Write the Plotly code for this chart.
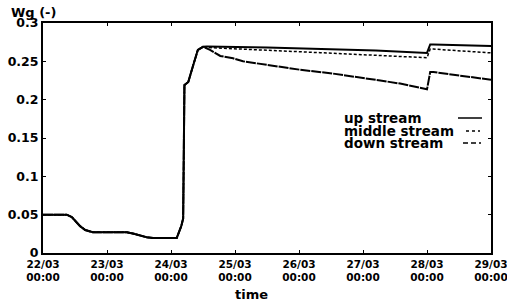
import plotly.graph_objects as go
import pandas as pd

# ---- data (days since 22/03 00:00, Wg values) ----
start_date = "2001-03-22 00:00"

early_days = [0, 0.37, 0.45, 0.52, 0.58, 0.66, 0.78, 1.0, 1.31, 1.42, 1.52, 1.62,
              1.72, 1.98, 2.09, 2.16, 2.19, 2.21, 2.27, 2.34, 2.42, 2.5]
early_wg = [0.050, 0.050, 0.047, 0.041, 0.035, 0.030, 0.027, 0.027, 0.027, 0.025,
            0.0226, 0.0205, 0.0196, 0.0196, 0.0196, 0.035, 0.045, 0.219, 0.223,
            0.243, 0.265, 0.269]

up_days = [2.56, 3.5, 4.33, 5.2, 6.0, 6.05, 6.1, 7.0]
up_wg = [0.2695, 0.268, 0.2665, 0.264, 0.261, 0.272, 0.272, 0.270]

mid_days = [2.56, 4.33, 5.2, 6.0, 6.05, 6.1, 7.0]
mid_wg = [0.268, 0.2613, 0.258, 0.2547, 0.266, 0.266, 0.261]

down_days = [2.61, 2.77, 2.97, 3.125, 3.5, 4.02, 4.53, 5.06, 5.27, 5.58, 5.9,
             6.0, 6.05, 6.1, 7.0]
down_wg = [0.265, 0.257, 0.254, 0.250, 0.245, 0.239, 0.234, 0.228, 0.225, 0.221,
           0.216, 0.2135, 0.236, 0.236, 0.226]

series_names = ["up stream", "middle stream", "down stream"]
y_tick_vals = [0, 0.05, 0.1, 0.15, 0.2, 0.25, 0.3]
y_tick_text = ["0", "0.05", "0.1", "0.15", "0.2", "0.25", "0.3"]
x_tick_days = [0, 1, 2, 3, 4, 5, 6, 7]
n_days = 7

base = pd.Timestamp(start_date)


def to_dt(days):
    return [base + pd.to_timedelta(d, unit="D") for d in days]


series = [
    (series_names[0], early_days + up_days, early_wg + up_wg, "solid", 2),
    (series_names[1], early_days + mid_days, early_wg + mid_wg, "3px,2px", 1.5),
    (series_names[2], early_days + down_days, early_wg + down_wg, "10px,1px", 2),
]

fig = go.Figure()
for name, d, w, dash, lw in series:
    fig.add_trace(go.Scatter(x=to_dt(d), y=w, mode="lines", name=name,
                             line=dict(color="black", width=lw, dash=dash),
                             showlegend=False))

L, R, T, B = 43, 16, 23, 50
W, H = 507, 303
pw, ph = W - L - R, H - T - B


def px(x):
    return (x - L) / pw


def py(y):
    return (H - B - y) / ph


bold = dict(family="DejaVu Sans", color="black", weight="bold")

tick_dt = to_dt(x_tick_days)
fig.update_layout(
    width=W, height=H,
    margin=dict(l=L, r=R, t=T, b=B, autoexpand=False),
    paper_bgcolor="white", plot_bgcolor="white",
    xaxis=dict(
        type="date", automargin=False,
        range=[tick_dt[0], tick_dt[-1]],
        tickvals=tick_dt,
        ticktext=[t.strftime("%d/%m<br>%H:%M") for t in tick_dt],
        tickfont=dict(size=10.5, **bold),
        showgrid=False, zeroline=False,
        showline=True, linecolor="black", linewidth=2, mirror="ticks",
        ticks="inside", ticklen=3, tickcolor="black",
        ticklabelstandoff=0, ticklabeloverflow="allow",
    ),
    yaxis=dict(
        range=[0, 0.3], automargin=False,
        tickvals=y_tick_vals, ticktext=y_tick_text,
        tickfont=dict(size=12.5, **bold),
        showgrid=False, zeroline=False,
        showline=True, linecolor="black", linewidth=2, mirror="ticks",
        ticks="inside", ticklen=3, tickcolor="black",
        ticklabeloverflow="allow",
    ),
)

ann = [
    dict(text="Wg (-)", x=px(33), y=py(12), font=dict(size=13, **bold)),
    dict(text="time", x=px(251), y=py(294), font=dict(size=13, **bold)),
]
for a in ann:
    fig.add_annotation(xref="paper", yref="paper", showarrow=False,
                       xanchor="center", yanchor="middle", **a)

leg_y = [118, 131, 143]
leg_dash = ["solid", "3px,3px", "5px,3px"]
leg_x = [(458, 482), (466, 480), (463, 481)]
for name, yy, dash, (x0, x1) in zip(series_names, leg_y, leg_dash, leg_x):
    fig.add_annotation(xref="paper", yref="paper", showarrow=False,
                       x=px(342), y=py(yy), xanchor="left", yanchor="middle",
                       text=name, font=dict(family="DejaVu Sans", size=13.5,
                                            color="black", weight="bold"))
    fig.add_shape(type="line", xref="paper", yref="paper",
                  x0=px(x0), x1=px(x1), y0=py(yy), y1=py(yy),
                  line=dict(color="black", width=1.5, dash=dash))

fig.write_html("out.html", config={"displayModeBar": False},
               post_script="document.body.style.margin='0';")
